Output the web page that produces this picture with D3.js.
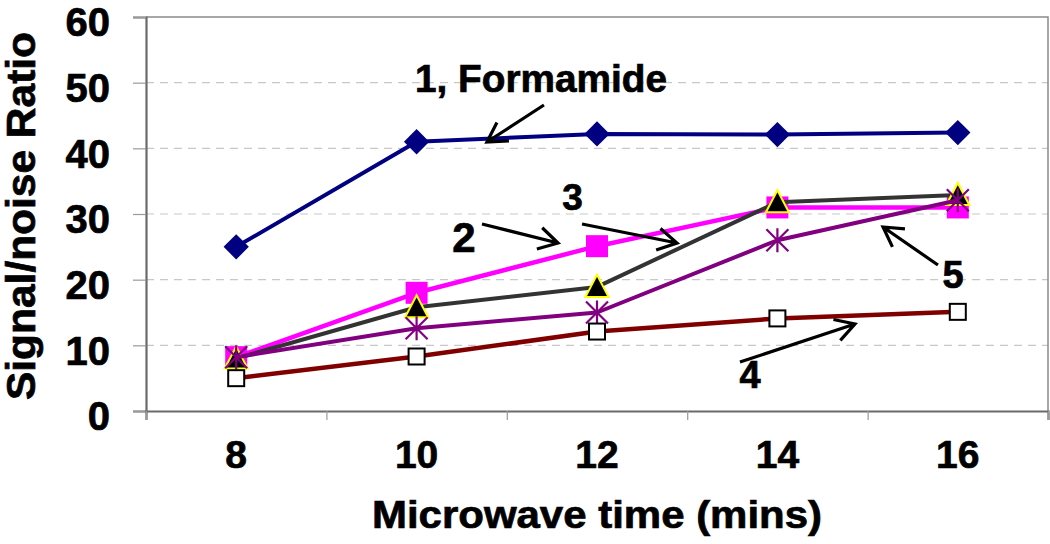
<!DOCTYPE html>
<html>
<head>
<meta charset="utf-8">
<script src="https://cdn.jsdelivr.net/npm/d3@7"></script>
<style>
  html, body { margin: 0; padding: 0; background: #fff; }
  svg { display: block; font-family: "Liberation Sans", Arial, sans-serif; font-weight: bold; }
  .heavy { stroke: #000; stroke-width: 0.7px; paint-order: stroke; }
</style>
</head>
<body>
<svg id="chart" width="1050" height="544"></svg>
<script>
// ---- data ----
const categories = [8, 10, 12, 14, 16];
const formamide  = [25, 41, 42.2, 42.1, 42.4];   // series 1
const series2    = [8.2, 18, 25.1, 31, 31];      // series 2 (magenta squares)
const series3    = [8, 15.8, 18.9, 31.8, 32.9];  // series 3 (triangles)
const series5    = [8.2, 12.6, 15, 26, 32.1];    // series 5 (asterisks)
const series4    = [5, 8.3, 12.1, 14.1, 15.1];   // series 4 (open squares)
const yTicks     = [0, 10, 20, 30, 40, 50, 60];
const xBoundaries = [7, 9, 11, 13, 15, 17];
const xTitle = "Microwave time (mins)";
const yTitle = "Signal/noise Ratio";

// annotations in data units: label text, label position, arrow from/to
const labels = [
  { text: "1, Formamide", t: 11.379, v: 48.58, size: 38, len: 252 },
  { text: "2", t: 10.525, v: 24.21, size: 42 },
  { text: "3", t: 11.728, v: 30.61, size: 37 },
  { text: "4", t: 13.696, v: 3.5,  size: 38 },
  { text: "5", t: 15.947, v: 18.73, size: 38 }
];
const arrows = [
  { t1: 11.412, v1: 46.6,  t2: 10.78,  v2: 40.96 },
  { t1: 10.725, v1: 28.48, t2: 11.568, v2: 25.58 },
  { t1: 11.834, v1: 28.48, t2: 12.887, v2: 25.58 },
  { t1: 15.78,  v1: 22.23, t2: 15.171, v2: 28.02 },
  { t1: 13.585, v1: 7.46,  t2: 14.86,  v2: 13.25 }
];

// ---- layout ----
const svg = d3.select("#chart");
const L = 146, R = 1048, T = 17, B = 411;
const x = d3.scaleLinear().domain([7, 17]).range([L, R]);
const y = d3.scaleLinear().domain([0, 60]).range([B, T]);

// gridlines
svg.append("g").selectAll("line").data(yTicks.filter(d => d > 0 && d < 60)).join("line")
  .attr("x1", L).attr("x2", R).attr("y1", d => y(d)).attr("y2", d => y(d))
  .attr("stroke", "#c8c8c8").attr("stroke-width", 1.2).attr("stroke-dasharray", "8,6");

// plot border (top and right)
svg.append("path")
  .attr("d", `M${L},${y(60)}H${R}V${B}`)
  .attr("fill", "none").attr("stroke", "#8a8a8a").attr("stroke-width", 1.5);

// y axis
const yAxis = svg.append("g").attr("transform", `translate(${L},0)`)
  .call(d3.axisLeft(y).tickValues(yTicks).tickSize(13).tickPadding(23).tickFormat(d3.format("d")));
yAxis.select(".domain").attr("stroke", "#6a6a6a").attr("stroke-width", 2.2);
yAxis.selectAll(".tick line").attr("stroke", "#9a9a9a").attr("stroke-width", 1.2);
yAxis.selectAll(".tick text").attr("font-size", 40).attr("font-weight", "bold")
  .attr("font-family", "Liberation Sans, Arial, sans-serif").attr("fill", "#000").attr("dy", "0.47em")
  .attr("class", "heavy");

// x axis (tick marks at category boundaries)
const xAxis = svg.append("g").attr("transform", `translate(0,${B})`)
  .call(d3.axisBottom(x).tickValues(xBoundaries).tickSize(9).tickFormat(""));
xAxis.select(".domain").attr("stroke", "#6a6a6a").attr("stroke-width", 2.2);
xAxis.selectAll(".tick line").attr("stroke", "#9a9a9a").attr("stroke-width", 1.2);

// category labels
svg.append("g").selectAll("text").data(categories).join("text")
  .attr("class", "heavy")
  .attr("x", d => x(d)).attr("y", B + 57)
  .attr("text-anchor", "middle").attr("font-size", 39).text(d => d);

// axis titles
svg.append("text").attr("class", "heavy").attr("x", (L + R) / 2).attr("y", 528)
  .attr("text-anchor", "middle").attr("font-size", 39)
  .attr("textLength", 450).attr("lengthAdjust", "spacingAndGlyphs").text(xTitle);
svg.append("text").attr("class", "heavy").attr("transform", `translate(35,${(T + B) / 2 + 2}) rotate(-90)`)
  .attr("text-anchor", "middle").attr("font-size", 40)
  .attr("textLength", 368).attr("lengthAdjust", "spacingAndGlyphs").text(yTitle);

// ---- series ----
const line = d3.line().x((d, i) => x(categories[i])).y(d => y(d));
const pts = arr => arr.map((v, i) => ({ cx: x(categories[i]), cy: y(v) }));

function drawLine(arr, color, w) {
  svg.append("path").datum(arr).attr("d", line)
    .attr("fill", "none").attr("stroke", color).attr("stroke-width", w).attr("stroke-linejoin", "round");
}

// 1: navy diamonds
drawLine(formamide, "#000080", 4);
svg.append("g").selectAll("path").data(pts(formamide)).join("path")
  .attr("d", d3.symbol().type(d3.symbolSquare).size(320)())
  .attr("transform", d => `translate(${d.cx},${d.cy}) rotate(45)`)
  .attr("fill", "#000080");

// 2: magenta squares
drawLine(series2, "#ff00ff", 4.5);
svg.append("g").selectAll("rect").data(pts(series2)).join("rect")
  .attr("x", d => d.cx - 11).attr("y", d => d.cy - 11).attr("width", 22).attr("height", 22)
  .attr("fill", "#ff00ff");

// 3: dark grey line, black triangles with yellow edge
drawLine(series3, "#333333", 4);
svg.append("g").selectAll("path").data(pts(series3)).join("path")
  .attr("d", "M0,-12L11.5,10L-11.5,10Z")
  .attr("transform", d => `translate(${d.cx},${d.cy})`)
  .attr("fill", "#000").attr("stroke", "#ffff00").attr("stroke-width", 2).attr("stroke-linejoin", "miter");

// 5: purple asterisks
drawLine(series5, "#800080", 4);
svg.append("g").selectAll("path").data(pts(series5)).join("path")
  .attr("d", "M-11,-11L11,11M-11,11L11,-11M0,-12L0,12")
  .attr("transform", d => `translate(${d.cx},${d.cy})`)
  .attr("fill", "none").attr("stroke", "#800080").attr("stroke-width", 2.2);

// 4: dark red line, open squares
drawLine(series4, "#800000", 4.5);
svg.append("g").selectAll("rect").data(pts(series4)).join("rect")
  .attr("x", d => d.cx - 8).attr("y", d => d.cy - 8).attr("width", 16).attr("height", 16)
  .attr("fill", "#fff").attr("stroke", "#000").attr("stroke-width", 2);

// ---- annotations ----
svg.append("g").selectAll("text").data(labels).join("text")
  .attr("class", "heavy")
  .attr("x", d => x(d.t)).attr("y", d => y(d.v))
  .attr("text-anchor", "middle").attr("font-size", d => d.size)
  .each(function(d) { if (d.len) d3.select(this).attr("textLength", d.len).attr("lengthAdjust", "spacingAndGlyphs"); })
  .text(d => d.text);

const ag = svg.append("g").attr("stroke", "#000").attr("stroke-width", 3.2).attr("fill", "none")
  .attr("stroke-linecap", "butt");
arrows.forEach(a => {
  const x1 = x(a.t1), y1 = y(a.v1), x2 = x(a.t2), y2 = y(a.v2);
  const ang = Math.atan2(y2 - y1, x2 - x1);
  const hl = 22, spread = Math.PI / 6;
  const h1x = x2 - hl * Math.cos(ang - spread), h1y = y2 - hl * Math.sin(ang - spread);
  const h2x = x2 - hl * Math.cos(ang + spread), h2y = y2 - hl * Math.sin(ang + spread);
  ag.append("path").attr("d", `M${x1},${y1}L${x2},${y2}M${h1x},${h1y}L${x2},${y2}L${h2x},${h2y}`);
});
</script>
</body>
</html>
